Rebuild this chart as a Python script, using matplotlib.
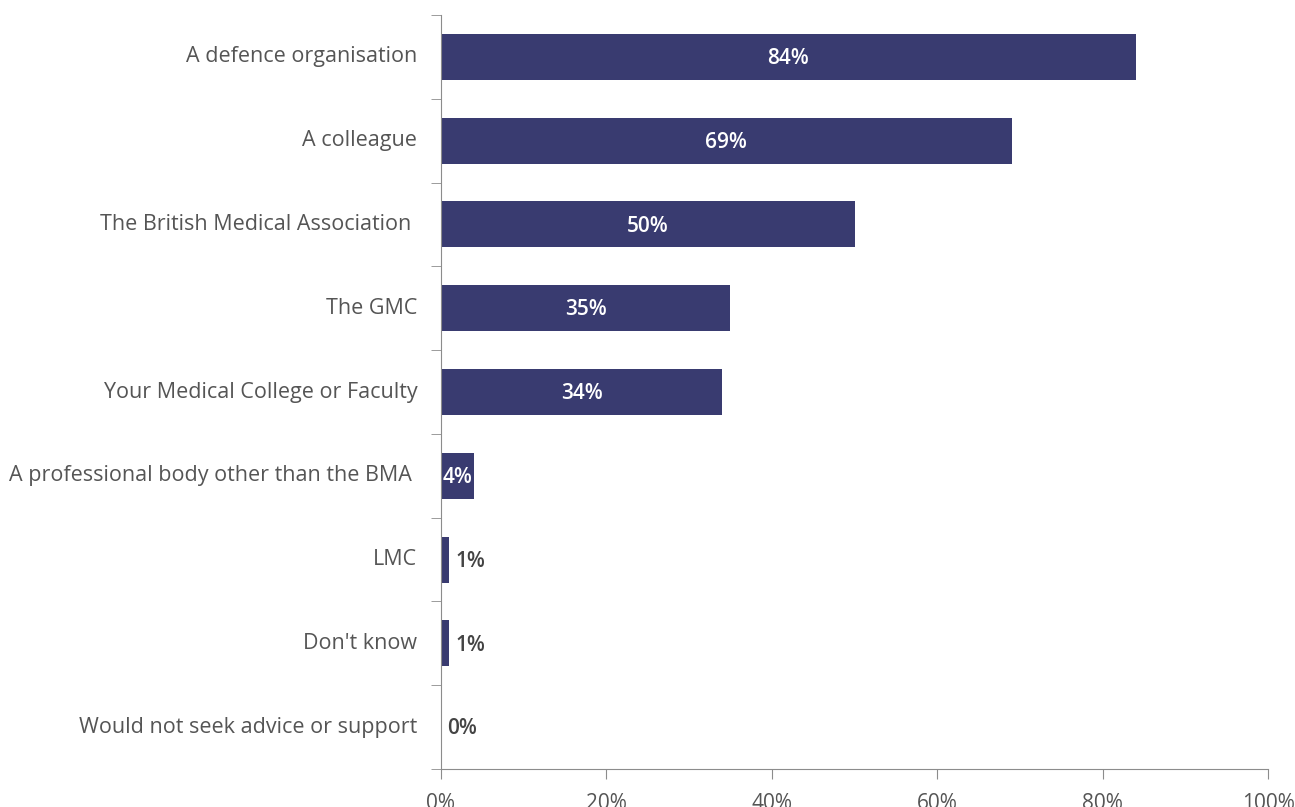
import matplotlib.pyplot as plt
import numpy as np

categories = [
    "A defence organisation",
    "A colleague",
    "The British Medical Association ",
    "The GMC",
    "Your Medical College or Faculty",
    "A professional body other than the BMA ",
    "LMC",
    "Don't know",
    "Would not seek advice or support",
]
values = [84, 69, 50, 35, 34, 4, 1, 1, 0]

bar_color = "#393b70"
text_color = "#555555"
axis_color = "#8c8c8c"

plt.rcParams["font.family"] = ["Open Sans", "DejaVu Sans"]

fig = plt.figure(figsize=(12.95, 8.07), dpi=100)
ax = fig.add_axes([0.3405, 0.0471, 0.6387, 0.9343])

ys = np.arange(len(categories))
ax.barh(ys, values, height=0.55, color=bar_color)

for y, v in zip(ys, values):
    label = f"{v}%"
    if v >= 4:
        ax.text(v / 2, y + 0.02, label, ha="center", va="center", color="white",
                fontsize=15, fontweight="semibold")
    else:
        ax.text(v + 0.7, y + 0.02, label, ha="left", va="center", color="#444444",
                fontsize=15, fontweight="semibold")

ax.set_xlim(0, 100)
ax.set_ylim(len(categories) - 0.5, -0.5)

ax.set_yticks(ys)
ax.set_yticklabels(categories, fontsize=15.5, color=text_color, va="bottom")
for lbl in ax.get_yticklabels():
    lbl.set_va("center")
ax.set_yticks(np.arange(len(categories) + 1) - 0.5, minor=True)
ax.tick_params(axis="y", which="major", length=0, pad=17)
ax.tick_params(axis="y", which="minor", length=7, color=axis_color, direction="out")

ax.set_xticks(np.arange(0, 101, 20))
ax.set_xticklabels([f"{t}%" for t in range(0, 101, 20)], fontsize=15, color=text_color)
ax.tick_params(axis="x", length=7, color=axis_color, direction="out", pad=10)

for side in ["top", "right"]:
    ax.spines[side].set_visible(False)
for side in ["left", "bottom"]:
    ax.spines[side].set_color(axis_color)

fig.savefig("out.png", dpi=100)
